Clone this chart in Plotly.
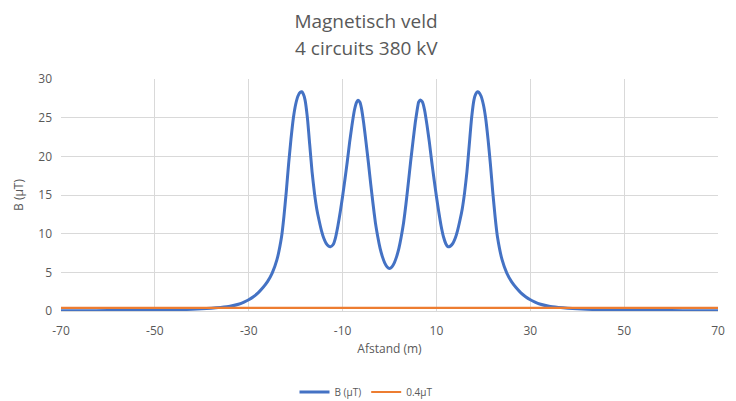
import plotly.graph_objects as go

# Field profile: distance (m) and magnetic field B (µT)
x_left = [-70, -65, -60, -55, -50, -45, -42, -40, -38, -36, -34, -32, -31, -30, -29, -28, -27, -26,
          -25, -24, -23, -22.5, -22, -21.5, -21, -20.5, -20, -19.5, -19, -18.7, -18.4, -18, -17.5,
          -17, -16.5, -16, -15.5, -15, -14.5, -14, -13.5, -13, -12.6, -12, -11.5, -11, -10.5, -10,
          -9.5, -9, -8.5, -8, -7.5, -7, -6.7, -6.3, -6, -5.5, -5, -4.5, -4, -3.5, -3, -2.5, -2,
          -1.5, -1, -0.5]
b_left = [0.03, 0.04, 0.05, 0.07, 0.1, 0.16, 0.22, 0.28, 0.36, 0.47, 0.62, 0.9, 1.15, 1.45, 1.85,
          2.35, 3.0, 3.8, 4.9, 6.6, 9.6, 12.2, 15.4, 19.0, 22.2, 24.9, 26.7, 27.8, 28.3, 28.35,
          28.1, 27.3, 25.0, 21.5, 18.0, 15.3, 13.2, 11.7, 10.4, 9.4, 8.75, 8.4, 8.3, 8.6, 9.5,
          11.0, 12.8, 14.8, 17.0, 19.3, 21.8, 24.0, 25.9, 27.0, 27.25, 27.0, 26.3, 24.3, 21.8,
          19.2, 16.4, 13.8, 11.4, 9.6, 8.1, 7.0, 6.2, 5.7]
x_mid = [0]
b_mid = [5.5]
x_right = [0.5, 1, 1.5, 2, 2.5, 3, 3.5, 4, 4.5, 5, 5.5, 6, 6.2, 6.55, 7, 7.5, 8, 8.5, 9, 9.5, 10,
           10.5, 11, 11.5, 12, 12.4, 12.7, 13, 13.5, 14, 14.5, 15, 15.5, 16, 16.5, 17, 17.5, 18,
           18.4, 18.8, 19, 19.5, 20, 20.5, 21, 21.5, 22, 22.5, 23, 24, 25, 26, 27, 28, 29, 30, 31,
           32, 34, 36, 38, 40, 42, 45, 50, 55, 60, 65, 70]
b_right = [5.7, 6.2, 7.0, 8.1, 9.6, 11.4, 13.8, 16.5, 19.3, 21.9, 24.4, 26.4, 27.0, 27.3, 27.05,
           25.9, 24.0, 21.8, 19.3, 17.0, 14.8, 12.8, 11.0, 9.6, 8.7, 8.35, 8.3, 8.4, 8.75, 9.4,
           10.4, 11.7, 13.2, 15.3, 18.0, 21.5, 25.0, 27.3, 28.1, 28.35, 28.3, 27.8, 26.7, 24.9,
           22.2, 19.0, 15.4, 12.2, 9.6, 6.6, 4.9, 3.8, 3.0, 2.35, 1.85, 1.45, 1.15, 0.9, 0.62,
           0.47, 0.36, 0.28, 0.22, 0.16, 0.1, 0.07, 0.05, 0.04, 0.03]

distance = x_left + x_mid + x_right
field = b_left + b_mid + b_right

limit_x = [-70, 70]
limit_b = [0.4, 0.4]

x_ticks = [-70, -50, -30, -10, 10, 30, 50, 70]
x_tick_text = ["-70", "-50", "-30", "-10", "10", "30", "50", "70"]
y_ticks = [0, 5, 10, 15, 20, 25, 30]

title_line1 = "Magnetisch veld"
title_line2 = "4 circuits 380 kV"

BLUE = "#4472C4"
ORANGE = "#ED7D31"
GREY = "#595959"
GRID = "#D9D9D9"
FONT = "Open Sans, Liberation Sans, sans-serif"

# The page body adds an 8px offset, so the figure is sized to the visible area
W, H = 728, 393
PLOT_LEFT, PLOT_RIGHT = 53, 710
PLOT_TOP, PLOT_BOTTOM = 71, 303
PLOT_W = PLOT_RIGHT - PLOT_LEFT
PLOT_H = PLOT_BOTTOM - PLOT_TOP
CENTER_X = 358  # horizontal centre of title and legend in figure pixels

fig = go.Figure()
fig.add_trace(go.Scatter(x=distance, y=field, mode="lines", name="B (µT)",
                         line=dict(color=BLUE, width=3, shape="spline", smoothing=0.5)))
fig.add_trace(go.Scatter(x=limit_x, y=limit_b, mode="lines", name="0.4µT",
                         line=dict(color=ORANGE, width=2.2)))

fig.update_layout(
    width=W, height=H,
    margin=dict(l=PLOT_LEFT, r=W - PLOT_RIGHT, t=PLOT_TOP, b=H - PLOT_BOTTOM, autoexpand=False),
    paper_bgcolor="white", plot_bgcolor="white",
    font=dict(family=FONT, color=GREY, size=11),
    title=dict(text=title_line1, x=CENTER_X / W, xref="container", xanchor="center",
               y=1 - 13 / H, yanchor="middle", yref="container",
               font=dict(family=FONT, size=19, color=GREY)),
    annotations=[dict(text=title_line2, x=(CENTER_X - PLOT_LEFT) / PLOT_W, xref="paper",
                      xanchor="center",
                      y=(PLOT_BOTTOM - 40) / PLOT_H, yref="paper", yanchor="middle",
                      showarrow=False,
                      font=dict(family=FONT, size=19, color=GREY))],
    showlegend=True,
    legend=dict(orientation="h", x=(CENTER_X - PLOT_LEFT) / PLOT_W, xanchor="center",
                y=-81 / PLOT_H, yanchor="middle",
                font=dict(size=10, color=GREY), itemwidth=30),
    xaxis=dict(range=[-70, 70], tickvals=x_ticks, ticktext=x_tick_text, showgrid=True,
               gridcolor=GRID, gridwidth=1, automargin=False,
               zeroline=False, showline=True, linecolor=GRID, ticks="",
               ticklabelstandoff=9,
               tickfont=dict(size=12, color=GREY),
               title=dict(text="Afstand (m)", font=dict(size=12, color=GREY), standoff=6)),
    yaxis=dict(range=[0, 30], tickvals=y_ticks, showgrid=True, gridcolor=GRID, gridwidth=1,
               zeroline=False, showline=False, ticks="", automargin=False,
               ticklabelstandoff=8,
               tickfont=dict(size=12, color=GREY),
               title=dict(text="B (µT)", font=dict(size=12, color=GREY), standoff=12)),
)

fig.write_html("out.html")
